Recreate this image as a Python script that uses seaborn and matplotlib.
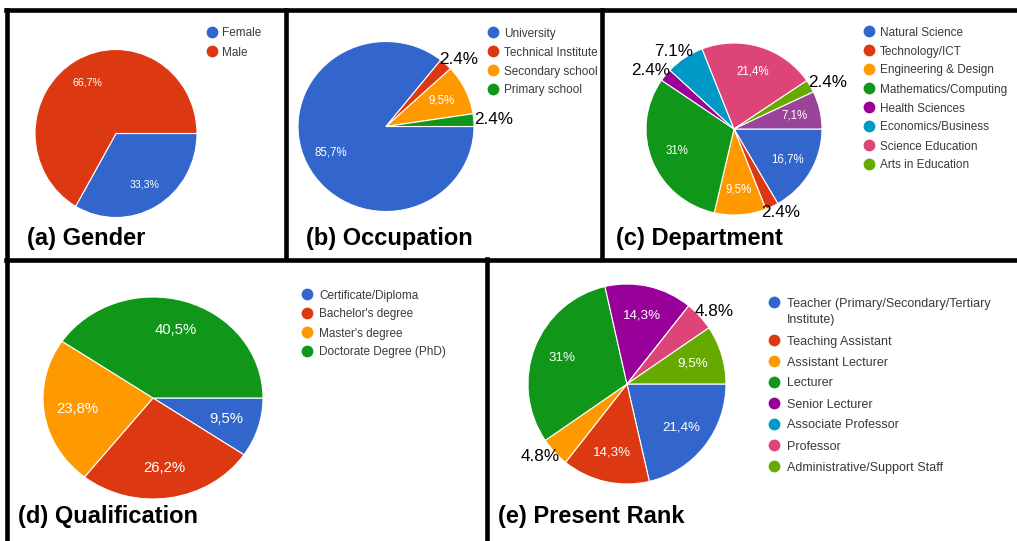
import numpy as np
import matplotlib.pyplot as plt
import seaborn as sns

# ---- data (percent values) ----
gender_labels = ["Female", "Male"]
gender_values = [33.3, 66.7]
gender_outside = [False, False]

occupation_labels = ["University", "Technical Institute", "Secondary school", "Primary school"]
occupation_values = [85.7, 2.4, 9.5, 2.4]
occupation_outside = [False, True, False, True]

department_labels = ["Natural Science", "Technology/ICT", "Engineering & Design",
                     "Mathematics/Computing", "Health Sciences", "Economics/Business",
                     "Science Education", "Arts in Education"]
# last slice has no entry in the legend
department_values = [16.7, 2.4, 9.5, 31, 2.4, 7.1, 21.4, 2.4, 7.1]
department_outside = [False, True, False, False, True, True, False, True, False]

qualification_labels = ["Certificate/Diploma", "Bachelor's degree", "Master's degree",
                        "Doctorate Degree (PhD)"]
qualification_values = [9.5, 26.2, 23.8, 40.5]
qualification_outside = [False, False, False, False]

rank_labels = ["Teacher (Primary/Secondary/Tertiary\nInstitute)", "Teaching Assistant",
               "Assistant Lecturer", "Lecturer", "Senior Lecturer", "Associate Professor",
               "Professor", "Administrative/Support Staff"]
rank_values = [21.4, 14.3, 4.8, 31, 14.3, 0, 4.8, 9.5]
rank_outside = [False, False, True, False, False, False, True, False]

sns.set_theme(style="white")
plt.rcParams['font.family'] = ['Liberation Sans', 'DejaVu Sans']

palette = sns.color_palette(["#3366cc", "#dc3912", "#ff9900", "#109618", "#990099",
                             "#0099c6", "#dd4477", "#66aa00", "#994499"])

W, H = 1017, 541
fig = plt.figure(figsize=(W / 100, H / 100), dpi=100)
fig.patch.set_facecolor('white')

# overlay in pixel coordinates for frames, titles and legends
bg = fig.add_axes([0, 0, 1, 1])
bg.set_xlim(0, W)
bg.set_ylim(H, 0)
bg.axis('off')

frame_kw = dict(color='black', linewidth=3.3, solid_capstyle='projecting')
bg.plot([6, W], [10, 10], **frame_kw)
bg.plot([7, 7], [10, H], **frame_kw)
bg.plot([286, 286], [10, 259], **frame_kw)
bg.plot([602, 602], [10, 259], **frame_kw)
bg.plot([6, W], [259.5, 259.5], **frame_kw)
bg.plot([487, 487], [259, H], **frame_kw)


def draw_pie(values, outside, geom, in_size):
    cx, cy, rx, ry = geom
    ax = fig.add_axes([(cx - rx) / W, 1 - (cy + ry) / H, 2 * rx / W, 2 * ry / H])
    wedges, _ = ax.pie(values, colors=palette[:len(values)], startangle=0,
                       counterclock=False, radius=1,
                       wedgeprops=dict(edgecolor='white', linewidth=0.8))
    ax.set_aspect('auto')
    ax.set_xlim(-1, 1)
    ax.set_ylim(-1, 1)
    for w, v, out in zip(wedges, values, outside):
        if v == 0:
            continue
        ang = np.deg2rad((w.theta1 + w.theta2) / 2)
        c, s = np.cos(ang), np.sin(ang)
        if out:
            ax.annotate(f"{v:.1f}%", xy=(c, s), xytext=(14 * c, 5 * s),
                        textcoords='offset points', ha='center', va='center',
                        fontsize=12.3, color='black', annotation_clip=False)
        else:
            txt = f"{v:g}".replace('.', ',') + '%'
            ax.text(0.7 * c, 0.7 * s, txt, ha='center', va='center',
                    fontsize=in_size, color='white')


def draw_legend(labels, x, y, pitch, size, offset, line_h=17):
    for i, lab in enumerate(labels):
        bg.scatter(x, y, s=72, color=palette[i], linewidths=0)
        lines = lab.split('\n')
        for j, line in enumerate(lines):
            bg.text(x + offset, y + j * line_h, line, fontsize=size, color='#3a3a3a',
                    va='center_baseline', ha='left')
        y += pitch + (len(lines) - 1) * line_h


def draw_title(text, x, y):
    bg.text(x, y, text, fontsize=17, fontweight='bold', color='black',
            va='center', ha='left')


# (a) Gender
draw_pie(gender_values, gender_outside, (116, 133.5, 81, 84), 7.6)
draw_legend(gender_labels, 212, 32, 19, 8.5, 10)
draw_title("(a) Gender", 27, 238)

# (b) Occupation
draw_pie(occupation_values, occupation_outside, (386, 126.5, 88, 85), 8.3)
draw_legend(occupation_labels, 493, 32, 19, 8.5, 11)
draw_title("(b) Occupation", 306, 238)

# (c) Department
draw_pie(department_values, department_outside, (734, 129, 88, 86), 8.3)
draw_legend(department_labels, 869, 31, 19, 8.5, 11)
draw_title("(c) Department", 616, 238)

# (d) Qualification
draw_pie(qualification_values, qualification_outside, (153, 398, 110, 101), 10.7)
draw_legend(qualification_labels, 307, 294, 19, 8.5, 12)
draw_title("(d) Qualification", 18, 516)

# (e) Present Rank
draw_pie(rank_values, rank_outside, (627, 384, 99, 100), 9.6)
draw_legend(rank_labels, 774, 302, 21, 9, 13)
draw_title("(e) Present Rank", 498, 516)

fig.savefig("out.png", dpi=100)
